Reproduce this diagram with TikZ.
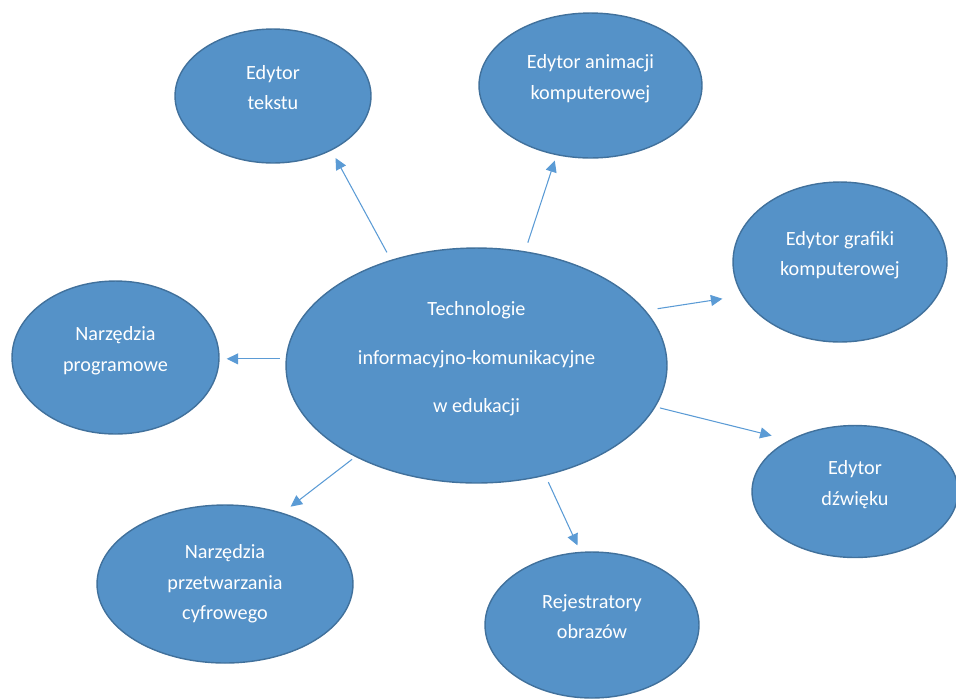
\documentclass[tikz,border=0pt]{standalone}
\usepackage{fontspec}
\setmainfont{Carlito}
\usetikzlibrary{shapes.geometric, arrows.meta}

\definecolor{bubblefill}{HTML}{5592C8}
\definecolor{bubbledraw}{HTML}{41719C}
\definecolor{arrowblue}{HTML}{5B9BD5}
\newcommand{\liftup}{\rule[-0.34cm]{0pt}{0.34cm}}

\begin{document}
\begin{tikzpicture}[
    x=0.02cm, y=-0.02cm,
    bubble/.style={ellipse, fill=bubblefill, draw=bubbledraw, line width=0.8pt, text=white, inner sep=0pt, align=center, font=\fontsize{11.5}{17.4}\selectfont},
    arrow/.style={-{Triangle[length=2.3mm, width=2.2mm]}, draw=arrowblue, line width=0.6pt}
]
\useasboundingbox (0,0) rectangle (956,698);

% Central topic
\node[bubble, minimum width=7.62cm, minimum height=4.70cm] (ICT) at (476.5,365.5) {Technologie\\[10pt]informacyjno-komunikacyjne\\[10pt]w edukacji\liftup};

% Tools around it
\node[bubble, minimum width=3.92cm, minimum height=2.68cm] (TXT) at (273,96) {Edytor\\tekstu\liftup};
\node[bubble, minimum width=4.46cm, minimum height=2.90cm] (ANIM) at (590.5,85.5) {Edytor animacji\\komputerowej\liftup};
\node[bubble, minimum width=4.28cm, minimum height=3.20cm] (GFX) at (840,262) {Edytor grafiki\\komputerowej\liftup};
\node[bubble, minimum width=4.14cm, minimum height=3.06cm] (PROG) at (115.5,357.5) {Narzędzia\\programowe\liftup};
\node[bubble, minimum width=4.12cm, minimum height=2.64cm] (SND) at (855,491.5) {Edytor\\dźwięku\liftup};
\node[bubble, minimum width=5.12cm, minimum height=3.16cm] (DIG) at (225,584) {Narzędzia\\przetwarzania\\cyfrowego};
\node[bubble, minimum width=4.28cm, minimum height=2.92cm] (REC) at (592,625) {Rejestratory\\obrazów\liftup};

% Arrows out of the centre
\draw[arrow, shorten <=0.17cm, shorten >=0.17cm] (ICT.129.2) -- (TXT.317.8);
\draw[arrow, shorten <=0.18cm, shorten >=0.11cm] (ICT.67.4) -- (ANIM.244.7);
\draw[arrow, shorten <=0.24cm, shorten >=0.40cm] (ICT.18.9) -- (GFX.199);
\draw[arrow, shorten <=0.12cm, shorten >=0.14cm] (ICT.178.5) -- (PROG.east |- ICT.178.5);
\draw[arrow, shorten <=0.09cm, shorten >=0.36cm] (ICT.347.3) -- (SND.142.1);
\draw[arrow, shorten <=0.08cm, shorten >=0.20cm] (ICT.217.1) -- (DIG.51.7);
\draw[arrow, shorten <=0.14cm, shorten >=0.14cm] (ICT.302.6) -- (REC.99.6);

\end{tikzpicture}
\end{document}
